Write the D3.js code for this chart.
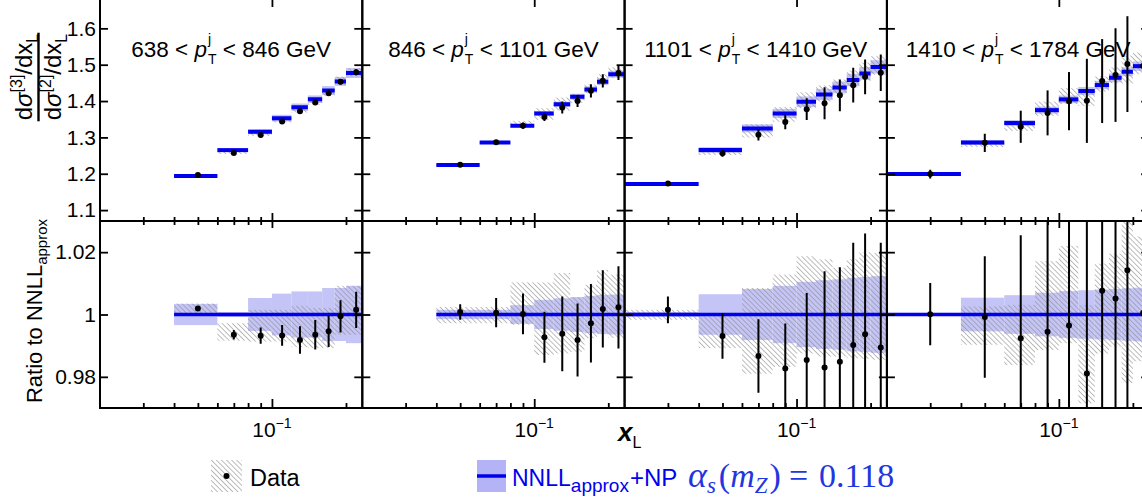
<!DOCTYPE html>
<html><head><meta charset="utf-8">
<script src="https://cdn.jsdelivr.net/npm/d3@7"></script>
<style>
body{margin:0;background:#fff;}
svg{display:block;}
</style>
</head><body>
<svg id="chart" width="1142" height="497"></svg>
<script>
// ---------------- data ----------------
const binEdges   = [0.02,0.04,0.06,0.08,0.10,0.12,0.14,0.16,0.18,0.20,0.24];
const binCenters = [0.03,0.05,0.07,0.09,0.11,0.13,0.15,0.17,0.19,0.22];
const ptLow  = ["638","846","1101","1410"];
const ptHigh = ["846","1101","1410","1784"];

const yTopTicks = [1.1,1.2,1.3,1.4,1.5,1.6];
const yTopTickLabels = ["1.1","1.2","1.3","1.4","1.5","1.6"];
const yBotTicks = [0.98,1.0,1.02];
const yBotTickLabels = ["0.98","1","1.02"];
const xMinorTicks = [0.03,0.04,0.05,0.06,0.07,0.08,0.09,0.2];
const xMajorTicks = [0.1];

// theory prediction (NNLL_approx+NP), ratio data/theory, data stat error,
// theory band half-width, data systematic band (in ratio units)
const theoryP1 = [null,1.194,1.265,1.3155,1.353,1.383,1.405,1.429,1.454,1.477];
const ratioP1  = [null,1.0019,0.9935,0.9932,0.9933,0.9918,0.9935,0.9946,0.9994,1.0015];
const errP1    = [null,0.0006,0.0015,0.0026,0.0033,0.0044,0.0047,0.0050,0.0052,0.0058];
const bandP1   = [null,0.0034,0.0008,0.0053,0.0067,0.0074,0.0074,0.0085,0.0085,0.0092];
const sysLoP1  = [null,0.9996,0.9916,0.9913,0.9913,0.9895,0.9892,0.9892,0.9935,0.9935];
const sysHiP1  = [null,1.0035,0.9972,1.0015,1.0015,1.0028,1.0021,1.0021,1.0092,1.0092];

const theoryP2 = [null,1.224,1.286,1.332,1.366,1.391,1.412,1.432,1.453,1.474];
const ratioP2  = [null,1.0008,1.0006,1.0002,0.9927,0.9938,0.9918,0.9972,1.0018,1.0023];
const errP2    = [null,0.0025,0.0047,0.0065,0.0082,0.0120,0.0117,0.0126,0.0124,0.0132];
const bandP2   = [null,0.0015,0.0015,0.0030,0.0047,0.0052,0.0056,0.0060,0.0063,0.0064];
const sysLoP2  = [null,0.9972,0.9972,0.9967,0.9870,0.9875,0.9880,0.9924,0.9940,0.9925];
const sysHiP2  = [null,1.0024,1.0024,1.0103,1.0103,1.0133,1.0055,1.0095,1.0143,1.0128];

const theoryP3 = [1.1715,1.265,1.3248,1.366,1.398,1.418,1.4376,1.458,1.476,1.494];
const ratioP3  = [1.0015,0.9931,0.9867,0.9827,0.9854,0.9830,0.9848,0.9902,0.9937,0.9894];
const errP3    = [0.0043,0.0073,0.0118,0.0144,0.0215,0.0309,0.0304,0.0328,0.0323,0.0336];
const bandP3   = [0.0008,0.0065,0.0082,0.0092,0.0105,0.0110,0.0113,0.0118,0.0120,0.0123];
const sysLoP3  = [0.9983,0.9892,0.9810,0.9832,0.9875,0.9865,0.9865,0.9860,0.9858,0.9855];
const sysHiP3  = [1.0015,0.9997,1.0085,1.0128,1.0187,1.0177,1.0150,1.0177,1.0200,1.0197];

const theoryP4 = [1.199,1.286,1.3394,1.375,1.4046,1.4275,1.444,1.464,1.4806,1.496];
const ratioP4  = [1.0001,0.9992,0.9924,0.9945,0.9965,0.9811,1.0076,1.0051,1.0142,1.0005];
const errP4    = [0.0100,0.0195,0.0330,0.0450,0.0570,0.0810,0.0800,0.0880,0.0890,0.0900];
const bandP4   = [0.0005,0.0054,0.0062,0.0070,0.0075,0.0078,0.0080,0.0082,0.0084,0.0086];
const sysLoP4  = [0.9995,0.9903,0.9838,0.9886,0.9908,0.9715,0.9875,0.9897,0.9780,0.9850];
const sysHiP4  = [1.0005,1.0026,1.0031,1.0171,1.0220,1.0030,1.0163,1.0195,1.0300,1.0250];

const panels = [
  {theory:theoryP1, ratio:ratioP1, err:errP1, band:bandP1, sysLo:sysLoP1, sysHi:sysHiP1},
  {theory:theoryP2, ratio:ratioP2, err:errP2, band:bandP2, sysLo:sysLoP2, sysHi:sysHiP2},
  {theory:theoryP3, ratio:ratioP3, err:errP3, band:bandP3, sysLo:sysLoP3, sysHi:sysHiP3},
  {theory:theoryP4, ratio:ratioP4, err:errP4, band:bandP4, sysLo:sysLoP4, sysHi:sysHiP4}
];

// ---------------- layout ----------------
const SANS = "'Liberation Sans',Arial,Helvetica,sans-serif";
const SERIF = "'Liberation Serif','Times New Roman',serif";
const BLUE = "#0000ee", BAND = "#c4c4f7", HATCH = "#8f8f8f";
const left0 = 100, panelW = 262.3;
const topY = -8, midY = 221, botY = 408;
const xDomain = [0.02, 0.233];
const yTop = d3.scaleLinear().domain([1.07, 1.70]).range([midY, topY]);
const yBot = d3.scaleLinear().domain([0.97, 1.03]).range([botY, midY]);

const svg = d3.select("#chart");
const defs = svg.append("defs");
const pat = defs.append("pattern").attr("id","hatch").attr("patternUnits","userSpaceOnUse")
  .attr("width",3.6).attr("height",3.6).attr("patternTransform","rotate(-45)");
pat.append("line").attr("x1",0).attr("y1",0).attr("x2",0).attr("y2",3.6)
  .attr("stroke",HATCH).attr("stroke-width",1.2);

// rich-text helper
function styleText(t, p){
  t.attr("font-size", p.size)
   .style("font-family", p.family || SANS)
   .style("font-style", p.italic ? "italic" : "normal")
   .style("font-weight", p.weight || "normal")
   .style("white-space","pre");
}
function measure(p){
  const t = svg.append("text").text(p.t);
  styleText(t, p);
  const w = t.node().getComputedTextLength();
  t.remove();
  return w;
}
function rich(g, parts, anchor, fill){
  let cur = 0, lastStart = 0, lastW = 0;
  const placed = [];
  parts.forEach(p => {
    const w = measure(p);
    let x;
    if (p.stack){ x = lastStart; cur = lastStart + Math.max(lastW, w); }
    else { x = cur + (p.gap||0); cur = x + w; lastStart = x; lastW = w; }
    placed.push({p, x});
  });
  const off = anchor === "middle" ? -cur/2 : (anchor === "end" ? -cur : 0);
  placed.forEach(({p,x}) => {
    const t = g.append("text").attr("x", x+off).attr("y", p.dy||0)
      .attr("fill", p.fill || fill || "#000").text(p.t);
    styleText(t, p);
  });
  return cur;
}

panels.forEach((P, pi) => {
  const px = left0 + pi*panelW;
  const x = d3.scaleLog().domain(xDomain).range([px, px+panelW]);
  const bins = d3.range(10).filter(i => P.theory[i] !== null);

  defs.append("clipPath").attr("id","cu"+pi).append("rect")
    .attr("x",px).attr("y",topY).attr("width",panelW).attr("height",midY-topY);
  defs.append("clipPath").attr("id","cl"+pi).append("rect")
    .attr("x",px).attr("y",midY).attr("width",panelW).attr("height",botY-midY);

  // ---- upper pad ----
  const gu = svg.append("g").attr("clip-path","url(#cu"+pi+")");
  gu.selectAll("rect.band").data(bins).join("rect")
    .attr("x", i => x(binEdges[i])).attr("width", i => x(binEdges[i+1]) - x(binEdges[i]))
    .attr("y", i => yTop(P.theory[i]*(1+P.band[i])))
    .attr("height", i => yTop(P.theory[i]*(1-P.band[i])) - yTop(P.theory[i]*(1+P.band[i])))
    .attr("fill", BAND);
  gu.selectAll("rect.sys").data(bins).join("rect")
    .attr("x", i => x(binEdges[i])).attr("width", i => x(binEdges[i+1]) - x(binEdges[i]))
    .attr("y", i => yTop(P.theory[i]*P.sysHi[i]))
    .attr("height", i => yTop(P.theory[i]*P.sysLo[i]) - yTop(P.theory[i]*P.sysHi[i]))
    .attr("fill", "url(#hatch)");
  gu.selectAll("line.th").data(bins).join("line")
    .attr("x1", i => x(binEdges[i])).attr("x2", i => x(binEdges[i+1]))
    .attr("y1", i => yTop(P.theory[i])).attr("y2", i => yTop(P.theory[i]))
    .attr("stroke", BLUE).attr("stroke-width", 4);
  gu.selectAll("line.eb").data(bins).join("line")
    .attr("x1", i => x(binCenters[i])).attr("x2", i => x(binCenters[i]))
    .attr("y1", i => yTop(P.theory[i]*(P.ratio[i]+P.err[i])))
    .attr("y2", i => yTop(P.theory[i]*(P.ratio[i]-P.err[i])))
    .attr("stroke", "#000").attr("stroke-width", 2);
  gu.selectAll("circle").data(bins).join("circle")
    .attr("cx", i => x(binCenters[i])).attr("cy", i => yTop(P.theory[i]*P.ratio[i]))
    .attr("r", 3).attr("fill", "#000");

  // ---- lower pad ----
  const gl = svg.append("g").attr("clip-path","url(#cl"+pi+")");
  gl.selectAll("rect.band").data(bins).join("rect")
    .attr("x", i => x(binEdges[i])).attr("width", i => x(binEdges[i+1]) - x(binEdges[i]))
    .attr("y", i => yBot(1+P.band[i]))
    .attr("height", i => yBot(1-P.band[i]) - yBot(1+P.band[i]))
    .attr("fill", BAND);
  gl.selectAll("rect.sys").data(bins).join("rect")
    .attr("x", i => x(binEdges[i])).attr("width", i => x(binEdges[i+1]) - x(binEdges[i]))
    .attr("y", i => yBot(P.sysHi[i]))
    .attr("height", i => yBot(P.sysLo[i]) - yBot(P.sysHi[i]))
    .attr("fill", "url(#hatch)");
  gl.append("line")
    .attr("x1", x(binEdges[bins[0]])).attr("x2", x(binEdges[10]))
    .attr("y1", yBot(1)).attr("y2", yBot(1))
    .attr("stroke", BLUE).attr("stroke-width", 3.5);
  gl.selectAll("line.eb").data(bins).join("line")
    .attr("x1", i => x(binCenters[i])).attr("x2", i => x(binCenters[i]))
    .attr("y1", i => yBot(P.ratio[i]+P.err[i]))
    .attr("y2", i => yBot(P.ratio[i]-P.err[i]))
    .attr("stroke", "#000").attr("stroke-width", 2);
  gl.selectAll("circle").data(bins).join("circle")
    .attr("cx", i => x(binCenters[i])).attr("cy", i => yBot(P.ratio[i]))
    .attr("r", 3).attr("fill", "#000");

  // ---- axes (inward ticks) ----
  const ax = svg.append("g");
  function put(axis, tx, ty){
    const g = ax.append("g").attr("transform", `translate(${tx},${ty})`).call(axis);
    g.select(".domain").remove();
    g.selectAll("line").attr("stroke","#000").attr("stroke-width",1.8);
    g.attr("font-family",null).attr("font-size",null);
    g.selectAll("text").attr("font-size",21).attr("fill","#000").style("font-family",SANS);
    return g;
  }
  const yTopFmt = (d,i) => pi === 0 ? yTopTickLabels[i] : "";
  const yBotFmt = (d,i) => pi === 0 ? yBotTickLabels[i] : "";
  put(d3.axisLeft(yTop).tickValues(yTopTicks).tickSize(-8).tickPadding(4).tickFormat(yTopFmt), px, 0);
  put(d3.axisRight(yTop).tickValues(yTopTicks).tickSize(-8).tickFormat(""), px+panelW, 0);
  put(d3.axisLeft(yBot).tickValues(yBotTicks).tickSize(-8).tickPadding(4).tickFormat(yBotFmt), px, 0);
  put(d3.axisRight(yBot).tickValues(yBotTicks).tickSize(-8).tickFormat(""), px+panelW, 0);
  put(d3.axisTop(x).tickValues(xMinorTicks).tickSize(-7).tickFormat(""), 0, topY);
  put(d3.axisTop(x).tickValues(xMajorTicks).tickSize(-15).tickFormat(""), 0, topY);
  put(d3.axisBottom(x).tickValues(xMinorTicks).tickSize(-4).tickFormat(""), 0, midY);
  put(d3.axisBottom(x).tickValues(xMajorTicks).tickSize(-8).tickFormat(""), 0, midY);
  put(d3.axisTop(x).tickValues(xMinorTicks).tickSize(-4).tickFormat(""), 0, midY);
  put(d3.axisTop(x).tickValues(xMajorTicks).tickSize(-7).tickFormat(""), 0, midY);
  put(d3.axisBottom(x).tickValues(xMinorTicks).tickSize(-5).tickFormat(""), 0, botY);
  put(d3.axisBottom(x).tickValues(xMajorTicks).tickSize(-9).tickFormat(""), 0, botY);

  ax.append("rect").attr("x",px).attr("y",topY).attr("width",panelW).attr("height",botY-topY)
    .attr("fill","none").attr("stroke","#000").attr("stroke-width",2);
  ax.append("line").attr("x1",px).attr("x2",px+panelW).attr("y1",midY).attr("y2",midY)
    .attr("stroke","#000").attr("stroke-width",2);

  xMajorTicks.forEach(v => {
    const g = svg.append("g").attr("transform",`translate(${x(v)},437)`);
    rich(g, [{t:"10",size:21},{t:"\u22121",size:14,dy:-9}], "middle");
  });

  const tg = svg.append("g").attr("transform",`translate(${px+panelW/2},57)`);
  rich(tg, [
    {t:ptLow[pi]+" < ",size:22.5},
    {t:"p",size:22.5,italic:true},
    {t:"j",size:14,dy:-13,gap:1},
    {t:"T",size:14,dy:7,stack:true},
    {t:" < "+ptHigh[pi]+" GeV",size:22.5}
  ], "middle");
});

// ---------------- axis titles ----------------
(function(){
  const cy = 77;
  const mk = s => [{t:"d",size:24},{t:"\u03c3",size:24,italic:true},{t:s,size:16,dy:-10},
                   {t:"/d",size:24},{t:"x",size:24},{t:"L",size:16,dy:6}];
  const g1 = svg.append("g").attr("transform",`translate(32,${cy}) rotate(-90)`);
  const w1 = rich(g1, mk("[3]"), "middle");
  const g2 = svg.append("g").attr("transform",`translate(61,${cy}) rotate(-90)`);
  const w2 = rich(g2, mk("[2]"), "middle");
  const w = Math.max(w1,w2);
  svg.append("line").attr("x1",38.5).attr("x2",38.5).attr("y1",cy-w/2-1).attr("y2",cy+w/2+1)
    .attr("stroke","#000").attr("stroke-width",2.4);
})();
(function(){
  const g = svg.append("g").attr("transform",`translate(42,311) rotate(-90)`);
  rich(g, [{t:"Ratio to NNLL",size:22},{t:"approx",size:15,dy:5}], "middle");
})();
(function(){
  const g = svg.append("g").attr("transform",`translate(618,441)`);
  rich(g, [{t:"x",size:26,italic:true,weight:"bold"},{t:"L",size:16,dy:7}], "start");
})();

// ---------------- legend ----------------
svg.append("rect").attr("x",211).attr("y",460).attr("width",31).attr("height",32).attr("fill","url(#hatch)");
svg.append("circle").attr("cx",226.5).attr("cy",476).attr("r",3).attr("fill","#000");
rich(svg.append("g").attr("transform","translate(250,486)"), [{t:"Data",size:23.5}], "start");

svg.append("rect").attr("x",477).attr("y",460).attr("width",29).attr("height",32).attr("fill","#b3b3f5");
svg.append("line").attr("x1",477).attr("x2",506).attr("y1",476).attr("y2",476).attr("stroke",BLUE).attr("stroke-width",3.5);
rich(svg.append("g").attr("transform","translate(512,486)"),
  [{t:"NNLL",size:23},{t:"approx",size:19,dy:6},{t:"+NP",size:24,gap:1}], "start", BLUE);
rich(svg.append("g").attr("transform","translate(688,487)"), [
  {t:"\u03b1",size:36,italic:true,family:SERIF},
  {t:"s",size:23,italic:true,dy:6,family:SERIF},
  {t:"(",size:34,family:SERIF,gap:3},
  {t:"m",size:34,italic:true,family:SERIF},
  {t:"Z",size:23,italic:true,dy:6,family:SERIF},
  {t:")",size:34,family:SERIF,gap:2},
  {t:"=",size:34,family:SERIF,gap:8},
  {t:"0.118",size:34,family:SERIF,gap:11}
], "start", "#1f36e0");
</script>
</body></html>
